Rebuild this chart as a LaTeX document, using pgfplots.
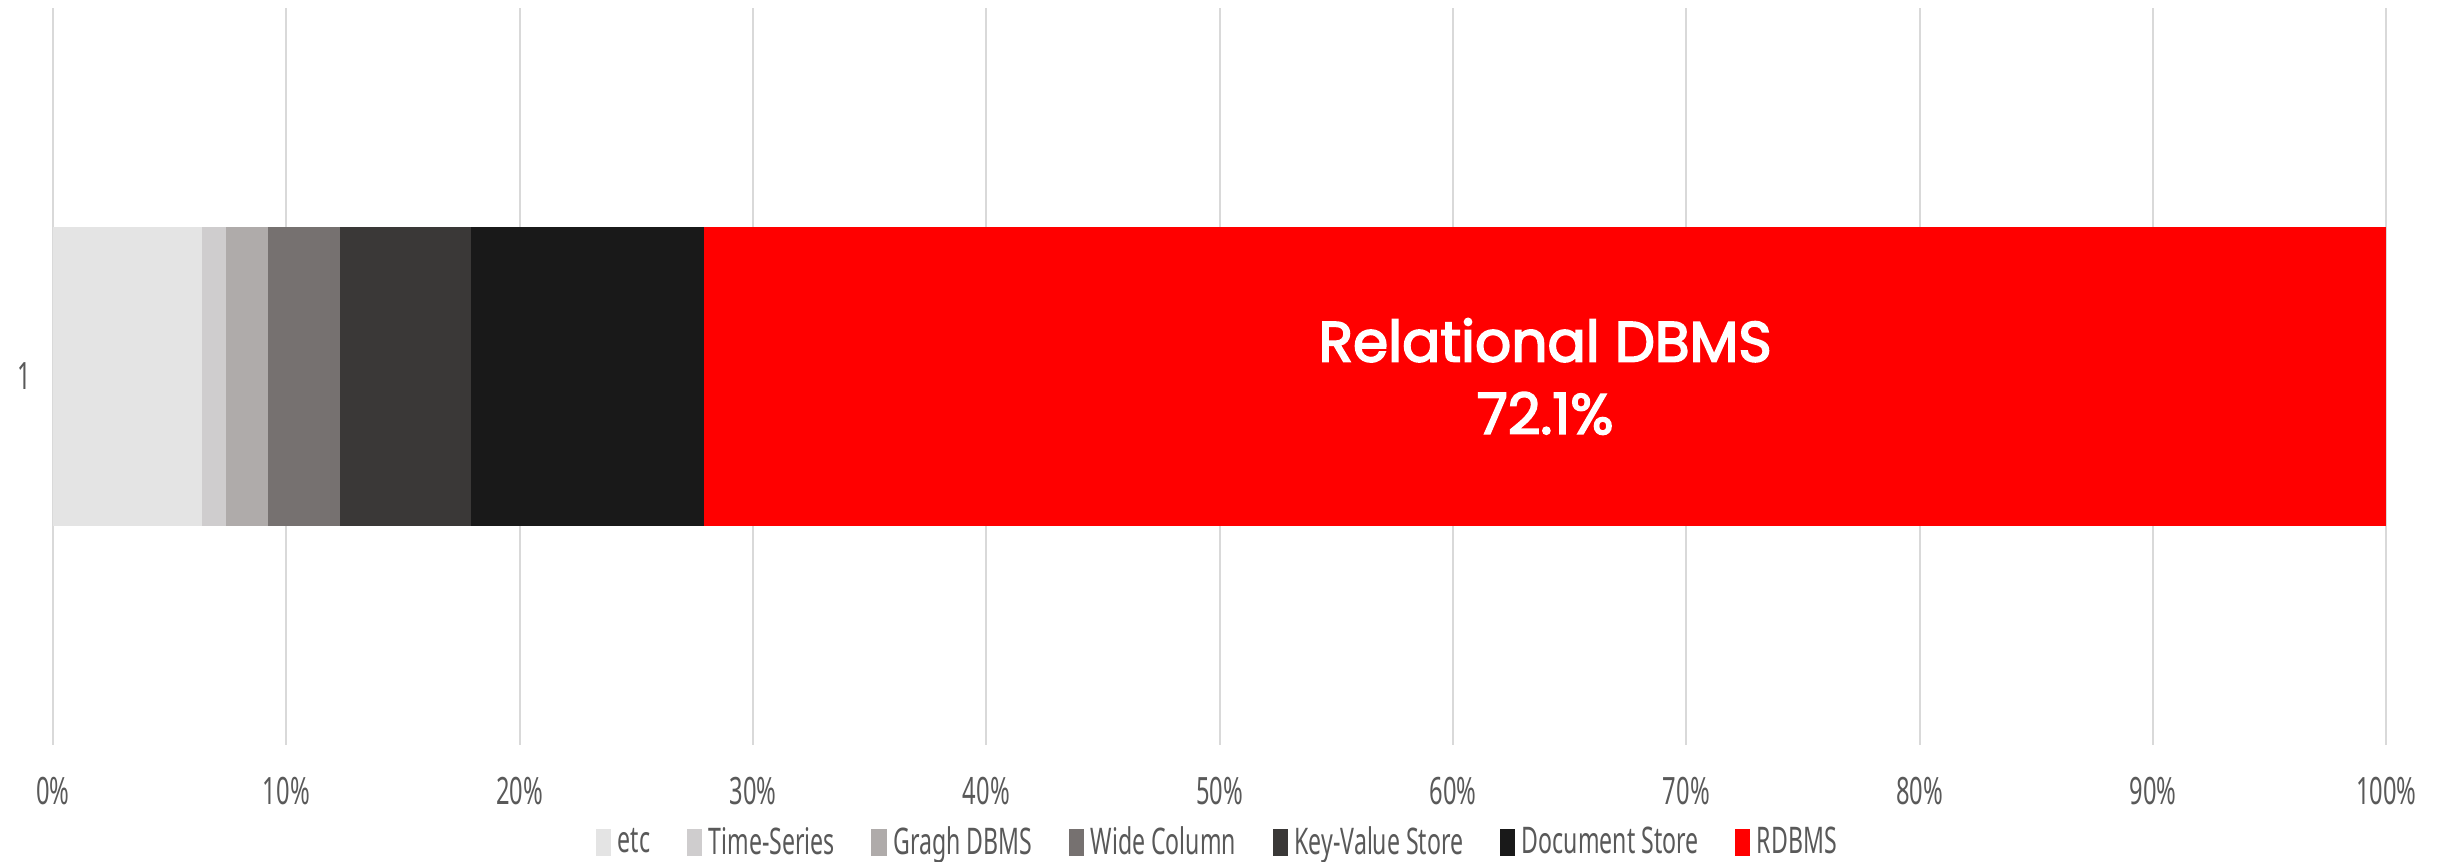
\documentclass[border=0pt]{standalone}
\usepackage{pgfplots}
\pgfplotsset{compat=1.18}
\usepackage{fontspec}
\setmainfont{Noto Sans}
\newfontfamily\pop{Poppins}[FakeBold=3]
\definecolor{cEtc}{HTML}{E4E4E4}
\definecolor{cTS}{HTML}{CFCDCE}
\definecolor{cGr}{HTML}{AFABAA}
\definecolor{cWC}{HTML}{767170}
\definecolor{cKV}{HTML}{3A3837}
\definecolor{cDoc}{HTML}{191919}
\definecolor{cRD}{HTML}{FF0000}
\definecolor{txt}{HTML}{595959}
\definecolor{grd}{HTML}{D9D9D9}
\newcommand{\nar}[1]{\scalebox{0.63}[1]{#1}}
\begin{document}
\begin{tikzpicture}
\begin{axis}[
  scale only axis, width=700pt, height=221.1pt,
  xbar stacked, bar width=89.7pt,
  xmin=0, xmax=100, ymin=0, ymax=2,
  xtick={0,10,...,100}, ytick={1},
  xticklabel={\nar{\pgfmathprintnumber{\tick}\%}},
  yticklabel={\nar{1}},
  /pgf/number format/assume math mode=true,
  axis line style={draw=none},
  tick style={draw=none},
  xmajorgrids, major grid style={grd, line width=0.6pt},
  ticklabel style={font=\fontsize{11.3}{13}\selectfont, text=txt},
  xticklabel style={yshift=-6pt},
  yticklabel style={xshift=-3pt},
  legend style={at={(0.5,-29.4pt)}, anchor=center, draw=none,
    legend columns=-1, font=\fontsize{11}{13}\selectfont, text=txt,
    /tikz/every even column/.append style={column sep=9pt},
    /tikz/every odd column/.append style={column sep=0pt}},
  legend image code/.code={\fill[#1] (0.06cm,-0.14cm) rectangle (0.22cm,0.15cm);},
  legend cell align=left,
]
\addplot[fill=cEtc, draw=none] coordinates {(6.4,1)};
\addplot[fill=cTS, draw=none] coordinates {(1.0,1)};
\addplot[fill=cGr, draw=none] coordinates {(1.8,1)};
\addplot[fill=cWC, draw=none] coordinates {(3.1,1)};
\addplot[fill=cKV, draw=none] coordinates {(5.6,1)};
\addplot[fill=cDoc, draw=none] coordinates {(10.0,1)};
\addplot[fill=cRD, draw=none] coordinates {(72.1,1)};
\legend{\nar{etc}, \nar{Time-Series}, \nar{Gragh DBMS}, \nar{Wide Column}, \nar{Key-Value Store}, \nar{Document Store}, \nar{RDBMS}}
\coordinate (lab) at (axis cs:63.95,1);
\end{axis}
\node[text=white, align=center, font=\pop\fontsize{17}{21.7}\selectfont] at (lab) {Relational DBMS\\72.1\%};
\pgfresetboundingbox
\path[use as bounding box] (-15.9pt,-35.1pt) rectangle (717.6pt,223.5pt);
\end{tikzpicture}
\end{document}
